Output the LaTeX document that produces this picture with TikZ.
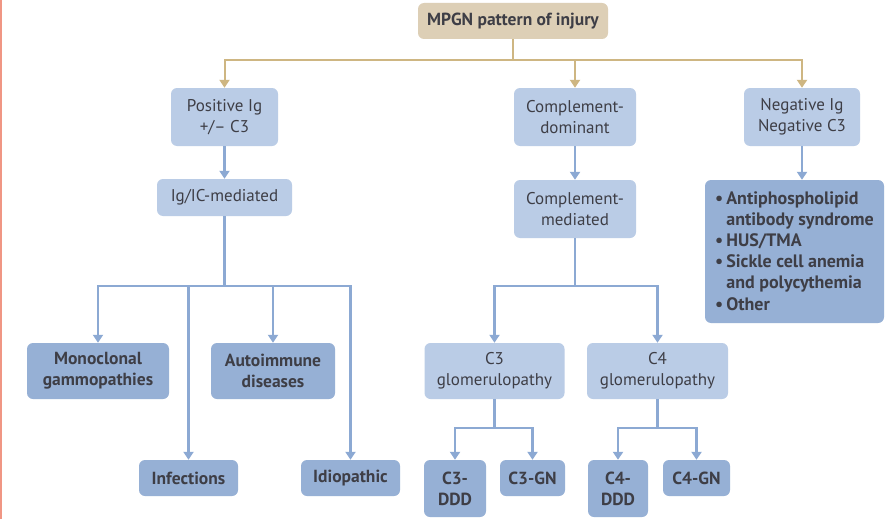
\documentclass[tikz,border=0pt]{standalone}
\usepackage{fontspec}
\setmainfont{PT Sans}
\usetikzlibrary{arrows.meta}
\definecolor{lightbox}{RGB}{186,204,230}
\definecolor{darkbox}{RGB}{150,176,213}
\definecolor{tanbox}{RGB}{221,207,182}
\definecolor{tanline}{RGB}{206,182,130}
\definecolor{blueline}{RGB}{140,169,211}
\definecolor{txt}{RGB}{62,62,70}
\definecolor{salmon}{RGB}{240,150,132}
\tikzset{
  x=1pt, y=-1pt,
  box/.style={rounded corners=6pt, inner sep=0pt, align=center, text=txt, font=\fontsize{17}{21}\selectfont},
  lbox/.style={box, fill=lightbox},
  dbox/.style={box, fill=darkbox, font=\fontsize{17.5}{21}\selectfont\bfseries},
  sz/.style 2 args={minimum width=#1pt, minimum height=#2pt},
  bl/.style={draw=blueline, line width=2.2pt},
  ba/.style={bl, -{Triangle[width=10pt,length=8pt]}},
  tl/.style={draw=tanline, line width=2pt},
  ta/.style={tl, -{Triangle[width=10pt,length=8pt]}},
}
\begin{document}
\begin{tikzpicture}
\useasboundingbox (0,0) rectangle (885,519);
\fill[white] (0,0) rectangle (885,519);
\fill[salmon] (0,0) rectangle (1.6,519);

% nodes
\node[box, fill=tanbox, sz={190}{36}, font=\fontsize{17.5}{21}\selectfont\bfseries] (top) at (513,21) {MPGN pattern of injury};
\node[lbox, sz={107}{58}] (pos) at (224.5,117) {Positive Ig\\+/\textendash{} C3};
\node[lbox, sz={135}{37}] (igic) at (224.5,197.5) {Ig/IC-mediated};
\node[lbox, sz={122}{58}] (cd) at (575,117) {Complement-\\dominant};
\node[lbox, sz={122}{58}] (cm) at (575,209) {Complement-\\mediated};
\node[lbox, sz={116}{58}] (neg) at (802,117) {Negative Ig\\Negative C3};
\node[dbox, sz={179}{143}] (big) at (794.5,251.5) {};
\node[anchor=north west, inner sep=0pt, text=txt, font=\fontsize{18}{21.2}\selectfont\bfseries] (bigtext) at (715,189) {\begin{tabular}{@{}l@{\hspace{3pt}}l@{}}
\textbullet & Antiphospholipid\\
 & antibody syndrome\\
\textbullet & HUS/TMA\\
\textbullet & Sickle cell anemia\\
 & and polycythemia\\
\textbullet & Other
\end{tabular}};

\node[dbox, sz={142}{56}] (mono) at (98,371) {Monoclonal\\gammopathies};
\node[dbox, sz={124}{56}] (auto) at (273,371) {Autoimmune\\diseases};
\node[dbox, sz={99}{36}] (inf) at (188.5,478) {Infections};
\node[dbox, sz={99}{36}] (idio) at (350.5,478) {Idiopathic};

\node[lbox, sz={140}{56}] (c3g) at (494.5,371) {C3\\glomerulopathy};
\node[lbox, sz={141}{56}] (c4g) at (657.5,371) {C4\\glomerulopathy};
\node[dbox, sz={62}{57}] (c3d) at (455,488.5) {C3-\\DDD};
\node[dbox, sz={65}{36}] (c3gn) at (532.5,478) {C3-GN};
\node[dbox, sz={60}{57}] (c4d) at (618,488.5) {C4-\\DDD};
\node[dbox, sz={67}{36}] (c4gn) at (696.5,478) {C4-GN};

% tan connectors
\draw[tl] (top.south) -- (513,60) coordinate (tj);
\draw[ta] (tj) -| (pos.north);
\draw[ta] (tj) -| (cd.north);
\draw[ta] (tj) -| (neg.north);

% blue connectors
\draw[ba] (pos.south) -- (igic.north);
\draw[ba] (cd.south) -- (cm.north);
\draw[ba] (neg.south) -- (neg.south |- big.north);

\draw[bl] (igic.south) -- (224.5,286) coordinate (ij);
\draw[ba] (ij) -| (mono.north);
\draw[ba] (ij) -| (auto.north);
\draw[ba] (ij) -| (inf.north);
\draw[ba] (ij) -| (idio.north);

\draw[bl] (cm.south) -- (575,286) coordinate (cj);
\draw[ba] (cj) -| (c3g.north);
\draw[ba] (cj) -| (c4g.north);

\draw[bl] (c3g.south) -- (494.5,428) coordinate (c3j);
\draw[ba] (c3j) -| (c3d.north);
\draw[ba] (c3j) -| (c3gn.north);

\draw[bl] (c4g.south) -- (657.5,428) coordinate (c4j);
\draw[ba] (c4j) -| (c4d.north);
\draw[ba] (c4j) -| (c4gn.north);
\end{tikzpicture}
\end{document}
